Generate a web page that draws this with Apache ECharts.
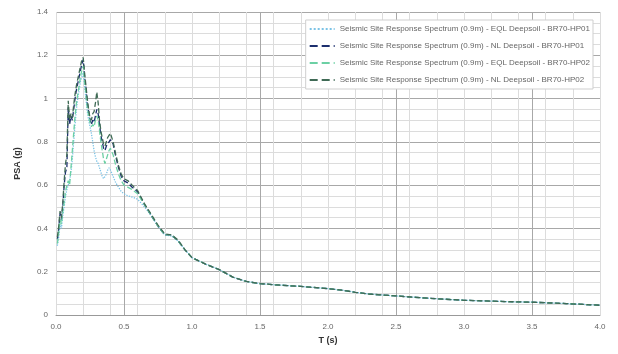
<!DOCTYPE html>
<html>
<head>
<meta charset="utf-8">
<script src="https://cdn.jsdelivr.net/npm/echarts@6/dist/echarts.min.js"></script>
<style>
  html, body { margin: 0; padding: 0; background: #fff; }
  #chart { width: 618px; height: 354px; }
</style>
</head>
<body>
<div id="chart"></div>
<script>
// periods T (s)
var periods = [0.01, 0.02, 0.03, 0.04, 0.05, 0.06, 0.07, 0.08, 0.09, 0.10,
  0.11, 0.12, 0.13, 0.14, 0.15, 0.16, 0.17, 0.18, 0.19, 0.20,
  0.21, 0.22, 0.23, 0.24, 0.25, 0.26, 0.27, 0.28, 0.29, 0.30,
  0.31, 0.32, 0.33, 0.34, 0.35, 0.36, 0.37, 0.38, 0.39, 0.40,
  0.42, 0.44, 0.46, 0.48, 0.50, 0.53, 0.56, 0.60, 0.65, 0.70,
  0.75, 0.80, 0.85, 0.90, 0.95, 1.0, 1.1, 1.2, 1.3, 1.4,
  1.5, 1.6, 1.8, 2.0, 2.1, 2.2, 2.3, 2.5, 2.75, 3.0,
  3.25, 3.5, 3.75, 4.0];

// PSA (g)
var eqlHP01 = [0.32, 0.36, 0.42, 0.40, 0.46, 0.50, 0.55, 0.58, 0.60, 0.62,
  0.66, 0.72, 0.80, 0.88, 0.95, 1.00, 1.04, 1.08, 1.10, 1.12,
  1.06, 1.00, 0.94, 0.90, 0.87, 0.84, 0.80, 0.76, 0.73, 0.71,
  0.70, 0.68, 0.66, 0.64, 0.63, 0.63, 0.65, 0.67, 0.68, 0.67,
  0.64, 0.61, 0.59, 0.57, 0.56, 0.55, 0.545, 0.535, 0.50, 0.46,
  0.41, 0.37, 0.365, 0.34, 0.30, 0.265, 0.235, 0.21, 0.175, 0.155,
  0.145, 0.14, 0.132, 0.122, 0.115, 0.105, 0.097, 0.088, 0.077, 0.068,
  0.063, 0.059, 0.053, 0.045];

var nlHP01 = [0.35, 0.40, 0.47, 0.44, 0.50, 0.60, 0.66, 0.68, 0.96, 0.88,
  0.92, 0.90, 0.95, 1.00, 1.04, 1.07, 1.10, 1.13, 1.16, 1.18,
  1.10, 1.05, 0.98, 0.94, 0.90, 0.88, 0.90, 0.89, 0.92, 0.95,
  0.93, 0.88, 0.83, 0.80, 0.77, 0.76, 0.78, 0.79, 0.80, 0.81,
  0.79, 0.73, 0.68, 0.64, 0.62, 0.61, 0.59, 0.57, 0.51, 0.46,
  0.41, 0.37, 0.37, 0.34, 0.30, 0.265, 0.235, 0.21, 0.175, 0.155,
  0.145, 0.14, 0.132, 0.122, 0.115, 0.105, 0.097, 0.088, 0.077, 0.068,
  0.063, 0.059, 0.053, 0.045];

var eqlHP02 = [0.33, 0.38, 0.44, 0.42, 0.48, 0.52, 0.57, 0.60, 0.62, 0.60,
  0.68, 0.76, 0.84, 0.92, 0.98, 1.02, 1.06, 1.10, 1.13, 1.15,
  1.08, 1.02, 0.96, 0.92, 0.89, 0.87, 0.88, 0.87, 0.90, 0.92,
  0.90, 0.85, 0.80, 0.76, 0.72, 0.70, 0.72, 0.74, 0.76, 0.77,
  0.74, 0.69, 0.65, 0.62, 0.60, 0.59, 0.58, 0.56, 0.51, 0.46,
  0.41, 0.37, 0.37, 0.34, 0.30, 0.265, 0.235, 0.21, 0.175, 0.155,
  0.145, 0.14, 0.132, 0.122, 0.115, 0.105, 0.097, 0.088, 0.077, 0.068,
  0.063, 0.059, 0.053, 0.045];

var nlHP02 = [0.36, 0.41, 0.48, 0.45, 0.52, 0.62, 0.70, 0.74, 0.99, 0.90,
  0.93, 0.91, 0.97, 1.02, 1.06, 1.09, 1.12, 1.15, 1.18, 1.19,
  1.12, 1.06, 1.00, 0.95, 0.91, 0.90, 0.93, 0.94, 0.98, 1.03,
  0.98, 0.90, 0.85, 0.82, 0.79, 0.78, 0.80, 0.82, 0.83, 0.84,
  0.80, 0.74, 0.69, 0.65, 0.63, 0.62, 0.60, 0.575, 0.515, 0.465,
  0.415, 0.375, 0.37, 0.345, 0.30, 0.265, 0.235, 0.21, 0.175, 0.155,
  0.145, 0.14, 0.132, 0.122, 0.115, 0.105, 0.097, 0.088, 0.077, 0.068,
  0.063, 0.059, 0.053, 0.045];

var seriesNames = [
  'Seismic Site Response Spectrum (0.9m) - EQL Deepsoil - BR70-HP01',
  'Seismic Site Response Spectrum (0.9m) - NL Deepsoil - BR70-HP01',
  'Seismic Site Response Spectrum (0.9m) - EQL Deepsoil - BR70-HP02',
  'Seismic Site Response Spectrum (0.9m) - NL Deepsoil - BR70-HP02'
];
var seriesValues = [eqlHP01, nlHP01, eqlHP02, nlHP02];
var seriesColors = ['#7cc3e6', '#1c2f6e', '#6cd0a4', '#3f6a55'];
var seriesDash = ['dotted', 'dashed', 'dashed', 'dashed'];

var xTicks = ['0.0', '0.5', '1.0', '1.5', '2.0', '2.5', '3.0', '3.5', '4.0'];

function pairs(vals) {
  var out = [];
  for (var i = 0; i < periods.length; i++) {
    out.push([periods[i], vals[i]]);
  }
  return out;
}

var chart = echarts.init(document.getElementById('chart'));

var series = [];
for (var i = 0; i < seriesNames.length; i++) {
  series.push({
    name: seriesNames[i],
    type: 'line',
    xAxisIndex: 0,
    data: pairs(seriesValues[i]),
    symbol: 'none',
    smooth: false,
    lineStyle: { color: seriesColors[i], width: 1.3, type: seriesDash[i] },
    itemStyle: { color: seriesColors[i] },
    z: 2 + i
  });
}

var option = {
  backgroundColor: '#ffffff',
  animation: false,
  grid: { left: 56, right: 18, top: 12, bottom: 39 },
  legend: {
    orient: 'vertical',
    right: 25,
    top: 20,
    itemWidth: 25,
    itemHeight: 8,
    itemGap: 9,
    padding: [5, 3, 5, 3],
    backgroundColor: '#ffffff',
    borderColor: '#cfcfcf',
    borderWidth: 1,
    itemStyle: { opacity: 0 },
    textStyle: { fontSize: 8, color: '#666', fontFamily: 'Liberation Sans' },
    data: seriesNames
  },
  xAxis: [{
    type: 'value',
    min: 0,
    max: 4,
    interval: 0.5,
    name: 'T (s)',
    nameLocation: 'middle',
    nameGap: 20,
    nameTextStyle: { fontSize: 9, color: '#333', fontWeight: 'bold', fontFamily: 'Liberation Sans' },
    axisLine: { show: true, lineStyle: { color: '#999' } },
    axisTick: { show: false },
    axisLabel: {
      fontSize: 8, color: '#666', fontFamily: 'Liberation Sans',
      formatter: function (v) { return xTicks[Math.round(v * 2)]; }
    },
    splitLine: { show: true, lineStyle: { color: '#a8a8a8', width: 1 } }
  }, {
    type: 'value',
    min: 0,
    max: 4,
    interval: 0.2,
    position: 'bottom',
    show: true,
    axisLine: { show: false },
    axisTick: { show: false },
    axisLabel: { show: false },
    splitLine: { show: true, lineStyle: { color: '#dcdcdc', width: 1 } }
  }],
  yAxis: {
    type: 'value',
    min: 0,
    max: 1.4,
    interval: 0.2,
    name: 'PSA (g)',
    nameLocation: 'middle',
    nameGap: 34,
    nameTextStyle: { fontSize: 9, color: '#333', fontWeight: 'bold', fontFamily: 'Liberation Sans' },
    axisLine: { show: false },
    axisTick: { show: false },
    axisLabel: {
      fontSize: 8, color: '#666', fontFamily: 'Liberation Sans',
      formatter: function (v) {
        if (Math.abs(v) < 1e-9) return '0';
        if (Math.abs(v - 1) < 1e-9) return '1';
        return v.toFixed(1);
      }
    },
    splitLine: { show: true, lineStyle: { color: '#a8a8a8', width: 1 } },
    minorTick: { show: false, splitNumber: 4 },
    minorSplitLine: { show: true, lineStyle: { color: '#dcdcdc', width: 1 } }
  },
  series: series
};

chart.setOption(option);
</script>
</body>
</html>
